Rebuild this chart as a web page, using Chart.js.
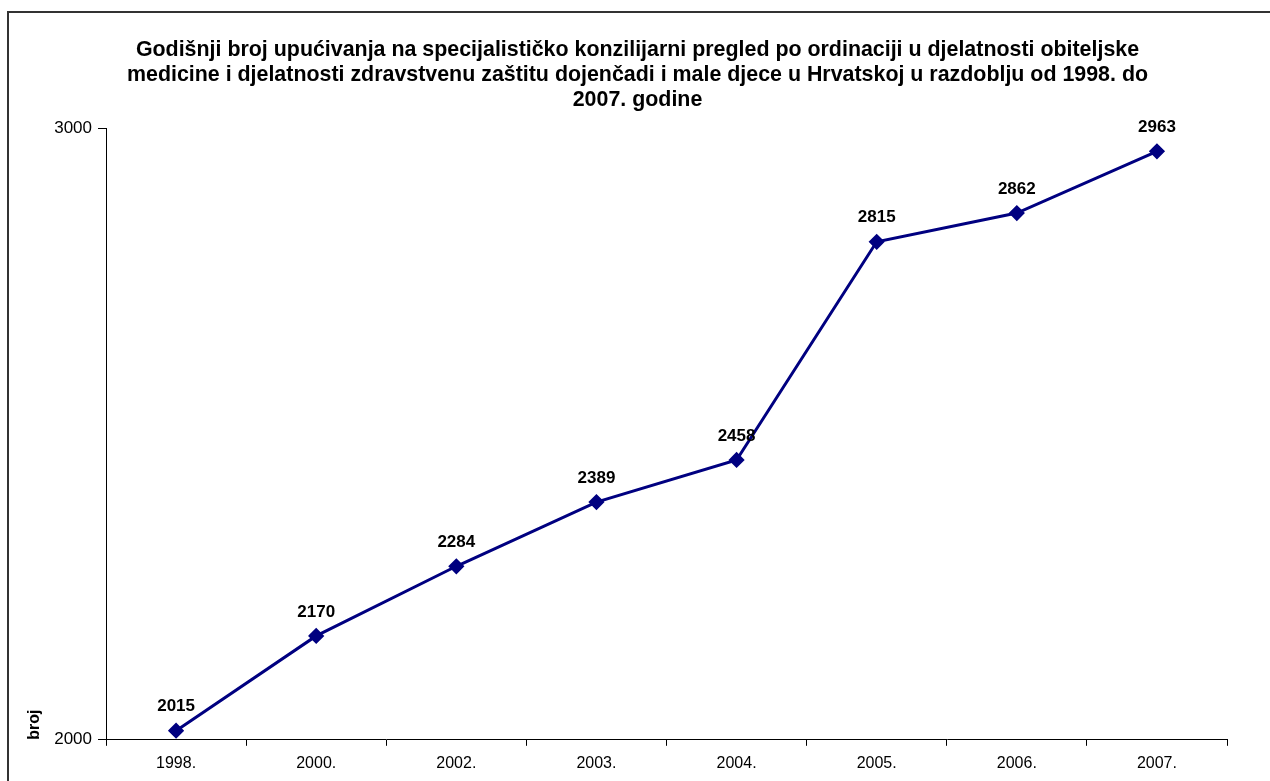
<!DOCTYPE html>
<html>
<head>
<meta charset="utf-8">
<script src="https://cdn.jsdelivr.net/npm/chart.js@4.4.1/dist/chart.umd.min.js"></script>
<style>
	html, body { margin: 0; padding: 0; background: #fff; overflow: hidden; }
	#wrap { position: relative; width: 1270px; height: 781px; }
	#frame { position: absolute; left: 7px; top: 11px; width: 2000px; height: 2000px;
		border-left: 2px solid #333; border-top: 2px solid #333; pointer-events: none; }
</style>
</head>
<body>
<div id="wrap">
	<canvas id="lineChart" width="1270" height="781"></canvas>
	<div id="frame"></div>
</div>
<script>
// chart data
const years = ['1998.', '2000.', '2002.', '2003.', '2004.', '2005.', '2006.', '2007.'];
const referrals = [2015, 2170, 2284, 2389, 2458, 2815, 2862, 2963];
const yTicks = [2000, 3000];
const titleLines = [
	'Godišnji broj upućivanja na specijalističko konzilijarni pregled po ordinaciji u djelatnosti obiteljske',
	'medicine i djelatnosti zdravstvenu zaštitu dojenčadi i male djece u Hrvatskoj u razdoblju od 1998. do',
	'2007. godine'
];

const fontFamily = 'Arial, "Liberation Sans", sans-serif';
const lineColor = '#000080';

// draws the value above each point
const valueLabels = {
	id: 'valueLabels',
	afterLayout(chart) {
		// title sits a bit right of the default centre
		chart.titleBlock.left += 21;
		chart.titleBlock.right += 21;
	},
	afterDatasetsDraw(chart) {
		const ctx = chart.ctx;
		const meta = chart.getDatasetMeta(0);
		ctx.save();
		ctx.font = 'bold 17px ' + fontFamily;
		ctx.fillStyle = '#000';
		ctx.textAlign = 'center';
		ctx.textBaseline = 'middle';
		meta.data.forEach(function(pt, i) {
			ctx.fillText(String(referrals[i]), pt.x, pt.y - 24);
		});
		ctx.restore();
	}
};

var ctxLine = document.getElementById('lineChart').getContext('2d');
var lineChart = new Chart(ctxLine, {
	type: 'line',
	data: {
		labels: years,
		datasets: [{
			label: 'broj',
			data: referrals,
			borderColor: lineColor,
			backgroundColor: lineColor,
			borderWidth: 3,
			pointStyle: 'rectRot',
			pointRadius: 6,
			pointHoverRadius: 6,
			tension: 0
		}]
	},
	options: {
		responsive: false,
		animation: false,
		layout: { padding: { left: 6, right: 43, top: 0, bottom: 0 } },
		plugins: {
			legend: { display: false },
			tooltip: { enabled: false },
			title: {
				display: true,
				text: titleLines,
				color: '#000',
				font: { family: fontFamily, size: 21.4, weight: 'bold', lineHeight: 1.18 },
				padding: { top: 37, bottom: 16 }
			}
		},
		scales: {
			x: {
				offset: true,
				grid: { offset: true, drawOnChartArea: false, drawTicks: true, tickLength: 6, color: '#000' },
				border: { display: true, color: '#000', width: 1 },
				ticks: { color: '#000', font: { family: fontFamily, size: 16 }, padding: 8, maxRotation: 0 }
			},
			y: {
				min: yTicks[0],
				max: yTicks[yTicks.length - 1],
				afterBuildTicks: function(axis) {
					axis.ticks = yTicks.map(function(v) { return { value: v }; });
				},
				grid: { drawOnChartArea: false, drawTicks: true, tickLength: 8, color: '#000' },
				border: { display: true, color: '#000', width: 1 },
				ticks: {
					color: '#000',
					font: { family: fontFamily, size: 17 },
					padding: 6,
					callback: function(value) { return String(value); }
				},
				title: {
					display: true,
					text: 'broj',
					align: 'start',
					color: '#000',
					font: { family: fontFamily, size: 16, weight: 'bold' },
					padding: { top: 19, bottom: 4 }
				}
			}
		}
	},
	plugins: [valueLabels]
});
</script>
</body>
</html>
